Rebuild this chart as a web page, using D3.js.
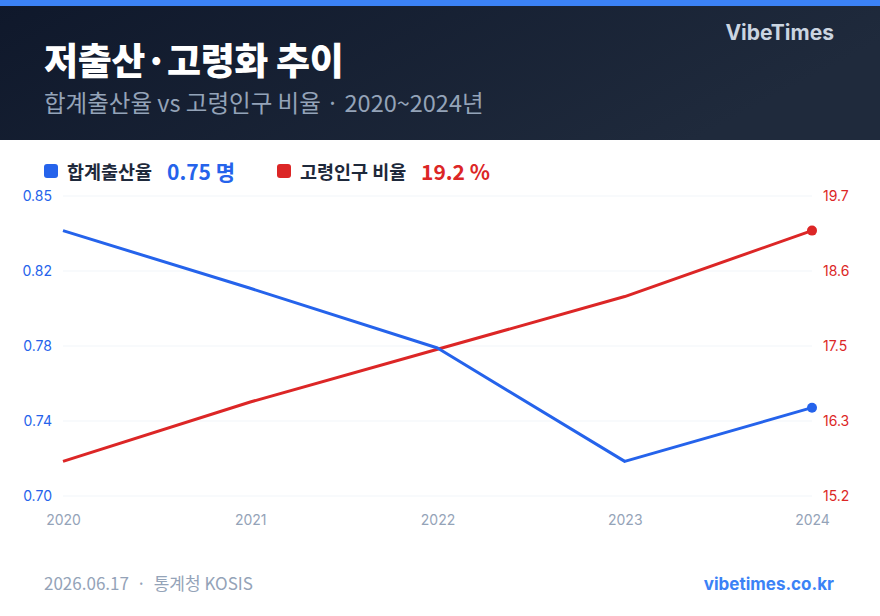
<!DOCTYPE html>
<html><head><meta charset="utf-8">
<script src="https://cdn.jsdelivr.net/npm/d3@7"></script>
<style>
html,body{margin:0;padding:0;background:#fff;}
svg{display:block;font-family:"Noto Sans CJK KR","Noto Sans",sans-serif;}
</style></head>
<body>
<script>
const years = ["2020","2021","2022","2023","2024"];
const fertility = [0.837, 0.808, 0.778, 0.721, 0.748];
const elderly = [15.7, 16.6, 17.4, 18.2, 19.2];
const leftTickLabels = ["0.70","0.74","0.78","0.82","0.85"];
const rightTickLabels = ["15.2","16.3","17.5","18.6","19.7"];
const title = "저출산·고령화 추이";
const subtitle = "합계출산율 vs 고령인구 비율 · 2020~2024년";
const legendNames = ["합계출산율","고령인구 비율"];
const legendValues = ["0.75 명","19.2 %"];

const W=880,H=616;
const svg=d3.select("body").append("svg").attr("width",W).attr("height",H);
const defs=svg.append("defs");
const g1=defs.append("linearGradient").attr("id","hdr").attr("x1","0").attr("x2","1").attr("y1","0").attr("y2","0.3");
g1.append("stop").attr("offset","0").attr("stop-color","#0f182b");
g1.append("stop").attr("offset","1").attr("stop-color","#1f2a3c");
svg.append("rect").attr("x",0).attr("y",0).attr("width",W).attr("height",140).attr("fill","url(#hdr)");
svg.append("rect").attr("x",0).attr("y",0).attr("width",W).attr("height",6).attr("fill","#3b82f6");
svg.append("text").attr("x",44).attr("y",75).attr("fill","#ffffff").attr("font-size",37).attr("font-weight",800).attr("letter-spacing",-0.4).text(title);
svg.append("text").attr("x",44).attr("y",112).attr("fill","#94a3b8").attr("font-size",23.5).attr("font-weight",400).text(subtitle);
svg.append("text").attr("x",834).attr("y",40).attr("text-anchor","end").attr("fill","#cbd5e1").attr("font-size",21).attr("font-weight",700).attr("font-family","Inter, 'Noto Sans', sans-serif").text("VibeTimes");

// legend
const blue="#2563eb", red="#dc2626";
const lg=[{x:44,c:blue,n:legendNames[0],v:legendValues[0],vx:167},{x:277,c:red,n:legendNames[1],v:legendValues[1],vx:421}];
lg.forEach(d=>{
  svg.append("rect").attr("x",d.x).attr("y",164).attr("width",14).attr("height",14).attr("rx",3).attr("fill",d.c);
  svg.append("text").attr("x",d.x+23).attr("y",179).attr("fill","#1e293b").attr("font-size",18.5).attr("font-weight",700).text(d.n);
  svg.append("text").attr("x",d.vx).attr("y",180).attr("fill",d.c).attr("font-size",21).attr("font-weight",700).text(d.v);
});

// chart
const x0=63,x1=812,yTop=196,yBot=496;
const x=d3.scalePoint().domain(years).range([x0,x1]);
function padded(arr){const mn=d3.min(arr),mx=d3.max(arr),p=(mx-mn)*0.15;return [mn-p,mx+p];}
const yL=d3.scaleLinear().domain(padded(fertility)).range([yBot,yTop]);
const yR=d3.scaleLinear().domain(padded(elderly)).range([yBot,yTop]);
const ticksL=d3.range(5).map(i=>yL.domain()[0]+i*(yL.domain()[1]-yL.domain()[0])/4);
const ticksR=d3.range(5).map(i=>yR.domain()[0]+i*(yR.domain()[1]-yR.domain()[0])/4);

// grid
svg.append("g").selectAll("line").data(ticksL).join("line")
  .attr("x1",x0).attr("x2",x1).attr("y1",d=>yL(d)).attr("y2",d=>yL(d))
  .attr("stroke","#f1f5f9").attr("stroke-width",1);

const axL=svg.append("g").attr("transform",`translate(${x0-8},0)`)
  .call(d3.axisLeft(yL).tickValues(ticksL).tickSize(0).tickFormat((d,i)=>leftTickLabels[i]));
axL.select(".domain").remove();
axL.selectAll("text").attr("fill",blue).attr("font-size",14).attr("font-family","Inter, 'Noto Sans', sans-serif");

const axR=svg.append("g").attr("transform",`translate(${x1+8},0)`)
  .call(d3.axisRight(yR).tickValues(ticksR).tickSize(0).tickFormat((d,i)=>rightTickLabels[i]));
axR.select(".domain").remove();
axR.selectAll("text").attr("fill",red).attr("font-size",14).attr("font-family","Inter, 'Noto Sans', sans-serif");

const axX=svg.append("g").attr("transform",`translate(0,${yBot+16})`)
  .call(d3.axisBottom(x).tickSize(0));
axX.select(".domain").remove();
axX.selectAll("text").attr("fill","#94a3b8").attr("font-size",14).attr("font-family","Inter, 'Noto Sans', sans-serif");

const lineL=d3.line().x((d,i)=>x(years[i])).y(d=>yL(d));
const lineR=d3.line().x((d,i)=>x(years[i])).y(d=>yR(d));
svg.append("path").attr("d",lineR(elderly)).attr("fill","none").attr("stroke",red).attr("stroke-width",3).attr("stroke-linejoin","round");
svg.append("path").attr("d",lineL(fertility)).attr("fill","none").attr("stroke",blue).attr("stroke-width",3).attr("stroke-linejoin","round");
const li=years.length-1;
svg.append("circle").attr("cx",x(years[li])).attr("cy",yR(elderly[li])).attr("r",5).attr("fill",red);
svg.append("circle").attr("cx",x(years[li])).attr("cy",yL(fertility[li])).attr("r",5).attr("fill",blue);

// footer
svg.append("text").attr("x",44).attr("y",590).attr("fill","#94a3b8").attr("font-size",17).attr("xml:space","preserve").text("2026.06.17  ·  통계청 KOSIS");
svg.append("text").attr("x",834).attr("y",590).attr("text-anchor","end").attr("fill","#3b82f6").attr("font-size",17).attr("font-weight",700).attr("font-family","Inter, 'Noto Sans', sans-serif").text("vibetimes.co.kr");
</script>
</body></html>
